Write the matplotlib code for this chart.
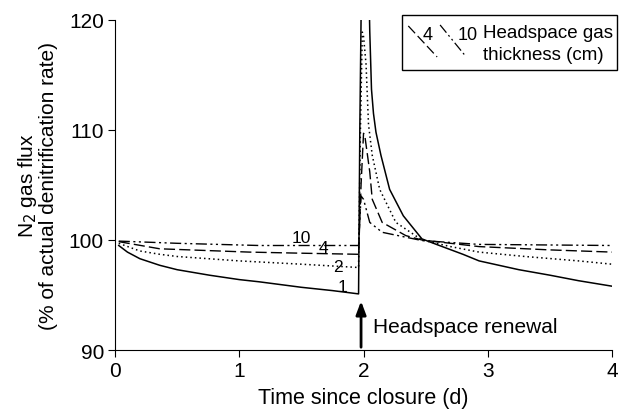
import matplotlib.pyplot as plt
from matplotlib.patches import Rectangle

plt.rcParams['font.family'] = ['Liberation Sans', 'DejaVu Sans']

# Headspace thickness 1 cm (solid)
x1 = [0.03, 0.1, 0.2, 0.36, 0.5, 0.76, 1.0, 1.16, 1.5, 1.75, 1.96,
      1.97, 1.985, 2.04, 2.05, 2.064, 2.08, 2.10, 2.14, 2.21, 2.32, 2.47,
      2.61, 2.8, 2.93, 3.25, 3.5, 3.73, 4.0]
y1 = [99.5, 98.9, 98.3, 97.7, 97.3, 96.8, 96.4, 96.2, 95.7, 95.4, 95.1,
      110, 125, 125, 119, 113.7, 111.5, 109.8, 107.7, 104.6, 102.2, 100.1,
      99.5, 98.7, 98.1, 97.3, 96.8, 96.3, 95.8]

# 2 cm (dotted)
x2 = [0.03, 0.2, 0.36, 0.5, 1.0, 1.5, 1.96, 1.975, 1.99, 2.0, 2.02, 2.04,
      2.07, 2.13, 2.26, 2.47, 2.7, 2.93, 3.3, 3.73, 4.0]
y2 = [99.7, 99.0, 98.7, 98.5, 98.1, 97.8, 97.5, 110, 118.9, 118.5, 116, 110.5,
      107.7, 104.6, 101.6, 100.0, 99.4, 98.9, 98.5, 98.1, 97.8]

# 4 cm (dashed)
x4 = [0.03, 0.36, 1.08, 1.5, 1.96, 1.98, 2.0, 2.01, 2.05, 2.07, 2.15, 2.34,
      2.47, 2.93, 3.5, 4.0]
y4 = [99.85, 99.2, 98.9, 98.8, 98.7, 105, 109.7, 109.5, 106.2, 103.7, 101.6,
      100.4, 100.0, 99.4, 99.1, 98.9]

# 10 cm (dash-dot-dot)
x10 = [0.03, 0.5, 1.16, 1.96, 1.98, 2.0, 2.05, 2.15, 2.47, 2.93, 4.0]
y10 = [99.9, 99.7, 99.5, 99.5, 104, 103.7, 101.6, 100.7, 99.95, 99.6, 99.5]

ls_dot = (0, (1, 2))
ls_dash = (0, (8, 3))
ls_dd = (0, (8, 2.5, 1.5, 2.5, 1.5, 2.5))

fig = plt.figure(figsize=(6.19, 4.10), dpi=100)
ax = fig.add_axes([0.1858, 0.1439, 0.803, 0.8049])

ax.plot(x1, y1, color='black', lw=1.1)
ax.plot(x2, y2, color='black', lw=1.1, linestyle=ls_dot)
ax.plot(x4, y4, color='black', lw=1.0, linestyle=ls_dash)
ax.plot(x10, y10, color='black', lw=1.0, linestyle=ls_dd)

ax.set_xlim(0, 4)
ax.set_ylim(90, 120)
ax.set_xticks([0, 1, 2, 3, 4])
ax.set_yticks([90, 100, 110, 120])
ax.spines['top'].set_visible(False)
ax.spines['right'].set_visible(False)
ax.tick_params(direction='out', length=5, labelsize=15, pad=3)

ax.set_xlabel('Time since closure (d)', fontsize=15.5, labelpad=5)
ax.set_ylabel('N$_2$ gas flux\n(% of actual denitrification rate)',
              fontsize=15, labelpad=8, linespacing=1.0)

# curve labels
ax.text(1.83, 95.8, '1', fontsize=12.5, ha='center', va='center')
ax.text(1.79, 97.6, '2', fontsize=12.5, ha='center', va='center')
ax.text(1.68, 99.35, '4', fontsize=12.5, ha='center', va='center')
ax.text(1.5, 100.25, '10', fontsize=12.5, ha='center', va='center')

# headspace renewal arrow
ax.annotate('', xy=(1.98, 94.7), xytext=(1.98, 90.0),
            arrowprops=dict(arrowstyle='-|>,head_width=0.3,head_length=0.8',
                            color='black', lw=2.0))
ax.text(2.08, 92.1, 'Headspace renewal', fontsize=15, va='center')

# legend box
tr = ax.transAxes
ax.add_patch(Rectangle((0.578, 0.849), 0.432, 0.167, transform=tr,
                       fill=False, lw=1.0, color='black', clip_on=False))
ax.plot([0.590, 0.648], [0.982, 0.888], transform=tr, color='black',
        lw=0.9, linestyle=ls_dash, clip_on=False)
ax.plot([0.654, 0.705], [0.985, 0.891], transform=tr, color='black',
        lw=0.9, linestyle=ls_dd, clip_on=False)
ax.text(0.628, 0.955, '4', transform=tr, fontsize=13, ha='center', va='center')
ax.text(0.71, 0.955, '10', transform=tr, fontsize=13, ha='center', va='center')
ax.text(0.74, 0.962, 'Headspace gas', transform=tr, fontsize=13.5, va='center')
ax.text(0.74, 0.895, 'thickness (cm)', transform=tr, fontsize=13.5, va='center')

fig.savefig('out.png', dpi=100)
